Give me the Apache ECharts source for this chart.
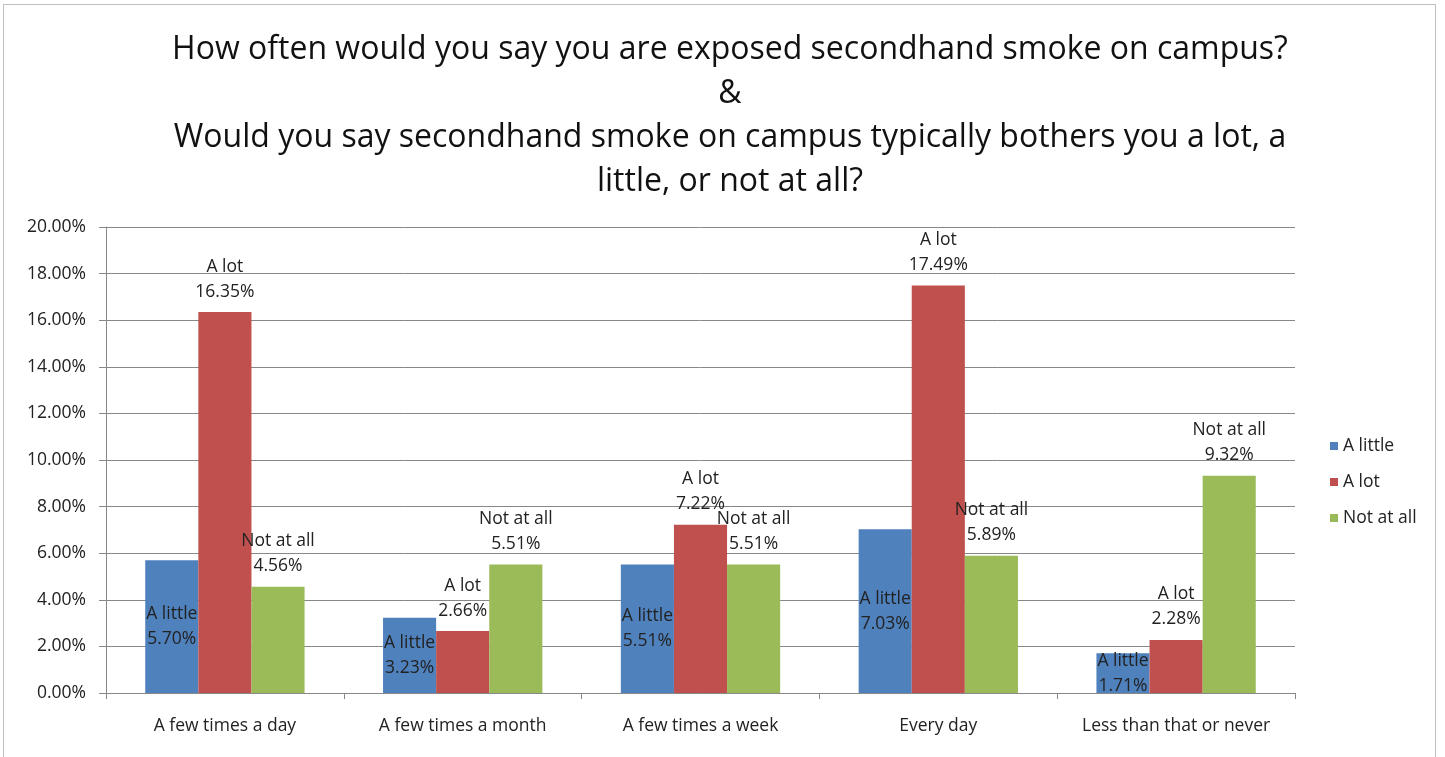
<!DOCTYPE html>
<html><head><meta charset="utf-8">
<script src="https://cdn.jsdelivr.net/npm/echarts@6/dist/echarts.min.js"></script>
<style>
html,body{margin:0;padding:0;background:#fff;}
#frame{position:absolute;left:3px;top:4px;width:1433px;height:760px;border:1px solid #bfbfbf;box-sizing:border-box;}
#c{position:absolute;left:0;top:0;width:1445px;height:757px;}
</style></head>
<body><div id="frame"></div><div id="c"></div>
<script>
const categories = ['A few times a day','A few times a month','A few times a week','Every day','Less than that or never'];
const aLittle = [5.70, 3.23, 5.51, 7.03, 1.71];
const aLot = [16.35, 2.66, 7.22, 17.49, 2.28];
const notAtAll = [4.56, 5.51, 5.51, 5.89, 9.32];
const titleLines = ['How often would you say you are exposed secondhand smoke on campus?','&','Would you say secondhand smoke on campus typically bothers you a lot, a','little, or not at all?'];

const font = '"Open Sans", Lato, sans-serif';
const fs = 17.5;
const chart = echarts.init(document.getElementById('c'));
const lbl = (pos) => ({
  show: true, position: pos, color: '#222', fontSize: fs, fontFamily: font, lineHeight: 25,
  formatter: p => p.seriesName + '\n' + p.value.toFixed(2) + '%'
});
chart.setOption({
  animation: false,
  title: {
    text: titleLines.join('\n'), top: 23, left: 725,
    textAlign: 'center',
    textStyle: {fontSize: 32, fontWeight: 'normal', color: '#111', fontFamily: font, lineHeight: 44}
  },
  legend: {
    orient: 'vertical', left: 1325, top: 432, itemGap: 18, itemWidth: 8, itemHeight: 8,
    icon: 'rect', textStyle: {fontSize: fs, color: '#222', fontFamily: font}
  },
  grid: {left: 106, right: 150, top: 227, bottom: 64},
  xAxis: {
    type: 'category', data: categories,
    axisLine: {lineStyle: {color: '#888'}},
    axisTick: {show: true, length: 6, lineStyle: {color: '#888'}},
    axisLabel: {interval: 0, hideOverlap: false, fontSize: fs, color: '#222', fontFamily: font, margin: 24}
  },
  yAxis: {
    type: 'value', min: 0, max: 20, interval: 2,
    axisLine: {show: true, lineStyle: {color: '#888'}},
    axisTick: {show: true, length: 7, lineStyle: {color: '#888'}},
    splitLine: {lineStyle: {color: '#888'}},
    axisLabel: {fontSize: fs, color: '#222', fontFamily: font, margin: 20, formatter: v => v.toFixed(2) + '%'}
  },
  series: [
    {name: 'A little', type: 'bar', data: aLittle, itemStyle: {color: '#4F81BD'}, barGap: '0%', barCategoryGap: '33%', label: lbl('inside')},
    {name: 'A lot', type: 'bar', data: aLot, itemStyle: {color: '#C0504D'}, label: Object.assign(lbl('top'), {distance: 8})},
    {name: 'Not at all', type: 'bar', data: notAtAll, itemStyle: {color: '#9BBB59'}, label: Object.assign(lbl('top'), {distance: 8})}
  ]
});
</script></body></html>
